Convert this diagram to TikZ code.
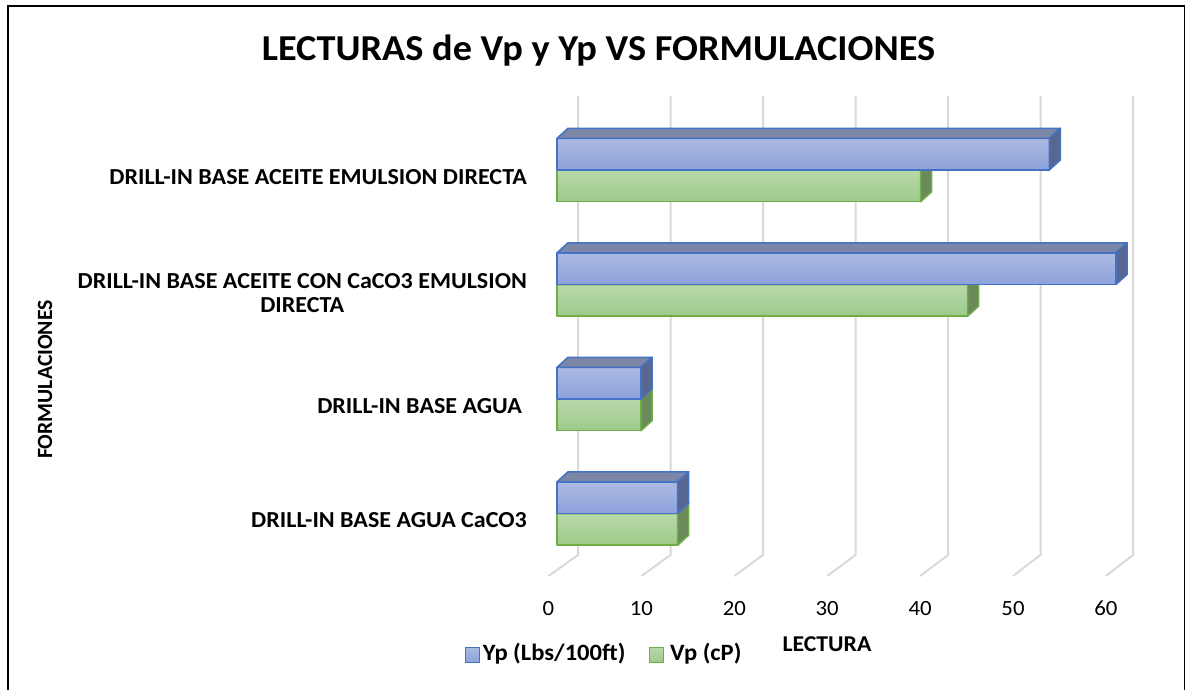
\documentclass[tikz,border=0pt]{standalone}
\usepackage{fontspec}
\setmainfont{Carlito}
\definecolor{chartcolor0001}{RGB}{172,186,226}
\definecolor{chartcolor0002}{RGB}{140,162,219}
\definecolor{chartcolor0003}{RGB}{124,134,166}
\definecolor{chartcolor0004}{RGB}{88,102,146}
\definecolor{chartcolor0005}{RGB}{68,114,196}
\definecolor{chartcolor0006}{RGB}{184,217,171}
\definecolor{chartcolor0007}{RGB}{157,202,137}
\definecolor{chartcolor0008}{RGB}{106,138,90}
\definecolor{chartcolor0009}{RGB}{124,150,108}
\definecolor{chartcolor0010}{RGB}{112,173,71}
\definecolor{chartcolor0011}{RGB}{217,217,217}

\begin{document}
\begin{tikzpicture}[yscale=-1
,cstyle0/.style={color=black,line width=1.5pt}
,cstyle1/.style={color=chartcolor0011,line width=2pt}
,cstyle2/.style={draw=chartcolor0005,top color=chartcolor0001,bottom color=chartcolor0002,line width=1.5pt,line join=round}
,cstyle3/.style={draw=chartcolor0005,fill=chartcolor0003,line width=1.5pt,line join=round}
,cstyle4/.style={draw=chartcolor0005,fill=chartcolor0004,line width=1.5pt,line join=round}
,cstyle5/.style={draw=chartcolor0010,top color=chartcolor0006,bottom color=chartcolor0007,line width=1.5pt,line join=round}
,cstyle6/.style={draw=chartcolor0010,fill=chartcolor0009,line width=1.5pt,line join=round}
,cstyle7/.style={draw=chartcolor0010,fill=chartcolor0008,line width=1.5pt,line join=round}
,ctext0/.style={font=\fontsize{36.5}{42}\selectfont\bfseries,inner sep=0pt,xscale=1.05}
,ctext1/.style={font=\fontsize{22.9}{24}\selectfont\bfseries,inner sep=0pt,xscale=1.05}
,ctext2/.style={font=\fontsize{21.7}{25}\selectfont,inner sep=0pt,xscale=1.05}
,ctext3/.style={font=\fontsize{21.7}{25}\selectfont\bfseries,inner sep=0pt}
,ctext4/.style={font=\fontsize{23.4}{27}\selectfont\bfseries,inner sep=0pt,xscale=1.05}
]
\useasboundingbox (0pt,0pt) rectangle (1186pt,690pt);
\draw[cstyle0] (8pt,6pt) rectangle (1184.5pt,692pt);
\node[ctext0,anchor=base] (title) at (598.5pt,61pt) {LECTURAS de Vp y Yp VS FORMULACIONES};
\draw[cstyle1] (578pt,96pt) -- (578pt,555pt) -- (548.5pt,576pt);
\draw[cstyle1] (670.5pt,96pt) -- (670.5pt,555pt) -- (641.4pt,576pt);
\draw[cstyle1] (763pt,96pt) -- (763pt,555pt) -- (734.3pt,576pt);
\draw[cstyle1] (855.5pt,96pt) -- (855.5pt,555pt) -- (827.2pt,576pt);
\draw[cstyle1] (948pt,96pt) -- (948pt,555pt) -- (920.1pt,576pt);
\draw[cstyle1] (1040.5pt,96pt) -- (1040.5pt,555pt) -- (1013pt,576pt);
\draw[cstyle1] (1133pt,96pt) -- (1133pt,555pt) -- (1105.9pt,576pt);
\draw[cstyle5] (557pt,170pt) rectangle (920.7pt,201.7pt);
\draw[cstyle6] (557pt,170pt) -- (568pt,160pt) -- (931.7pt,160pt) -- (920.7pt,170pt) -- cycle;
\draw[cstyle7] (920.7pt,170pt) -- (931.7pt,160pt) -- (931.7pt,191.7pt) -- (920.7pt,201.7pt) -- cycle;
\draw[cstyle2] (557pt,138.3pt) rectangle (1049.3pt,170pt);
\draw[cstyle3] (557pt,138.3pt) -- (568pt,128.3pt) -- (1060.3pt,128.3pt) -- (1049.3pt,138.3pt) -- cycle;
\draw[cstyle4] (1049.3pt,138.3pt) -- (1060.3pt,128.3pt) -- (1060.3pt,160pt) -- (1049.3pt,170pt) -- cycle;
\draw[cstyle5] (557pt,284.5pt) rectangle (967.6pt,316.2pt);
\draw[cstyle6] (557pt,284.5pt) -- (568pt,274.5pt) -- (978.6pt,274.5pt) -- (967.6pt,284.5pt) -- cycle;
\draw[cstyle7] (967.6pt,284.5pt) -- (978.6pt,274.5pt) -- (978.6pt,306.2pt) -- (967.6pt,316.2pt) -- cycle;
\draw[cstyle2] (557pt,252.8pt) rectangle (1116pt,284.5pt);
\draw[cstyle3] (557pt,252.8pt) -- (568pt,242.8pt) -- (1127pt,242.8pt) -- (1116pt,252.8pt) -- cycle;
\draw[cstyle4] (1116pt,252.8pt) -- (1127pt,242.8pt) -- (1127pt,274.5pt) -- (1116pt,284.5pt) -- cycle;
\draw[cstyle5] (557pt,399pt) rectangle (641pt,430.7pt);
\draw[cstyle6] (557pt,399pt) -- (568pt,389pt) -- (652pt,389pt) -- (641pt,399pt) -- cycle;
\draw[cstyle7] (641pt,399pt) -- (652pt,389pt) -- (652pt,420.7pt) -- (641pt,430.7pt) -- cycle;
\draw[cstyle2] (557pt,367.3pt) rectangle (641pt,399pt);
\draw[cstyle3] (557pt,367.3pt) -- (568pt,357.3pt) -- (652pt,357.3pt) -- (641pt,367.3pt) -- cycle;
\draw[cstyle4] (641pt,367.3pt) -- (652pt,357.3pt) -- (652pt,389pt) -- (641pt,399pt) -- cycle;
\draw[cstyle5] (557pt,513.5pt) rectangle (677.7pt,545.2pt);
\draw[cstyle6] (557pt,513.5pt) -- (568pt,503.5pt) -- (688.7pt,503.5pt) -- (677.7pt,513.5pt) -- cycle;
\draw[cstyle7] (677.7pt,513.5pt) -- (688.7pt,503.5pt) -- (688.7pt,535.2pt) -- (677.7pt,545.2pt) -- cycle;
\draw[cstyle2] (557pt,481.8pt) rectangle (677.7pt,513.5pt);
\draw[cstyle3] (557pt,481.8pt) -- (568pt,471.8pt) -- (688.7pt,471.8pt) -- (677.7pt,481.8pt) -- cycle;
\draw[cstyle4] (677.7pt,481.8pt) -- (688.7pt,471.8pt) -- (688.7pt,503.5pt) -- (677.7pt,513.5pt) -- cycle;
\node[ctext1,anchor=base east] (cat1) at (527pt,184.3pt) {DRILL-IN BASE ACEITE EMULSION DIRECTA};
\node[ctext1,anchor=east,align=center] (cat2) at (527pt,293pt) {DRILL-IN BASE ACEITE CON CaCO3 EMULSION\\DIRECTA};
\node[ctext1,anchor=base east] (cat3) at (522pt,413.3pt) {DRILL-IN BASE AGUA};
\node[ctext1,anchor=base east] (cat4) at (527pt,527.8pt) {DRILL-IN BASE AGUA CaCO3};
\node[ctext3,anchor=base,rotate=90] (ytitle) at (52pt,379.5pt) {FORMULACIONES};
\node[ctext2,anchor=base] (tick0) at (548.5pt,615pt) {0};
\node[ctext2,anchor=base] (tick10) at (641.4pt,615pt) {10};
\node[ctext2,anchor=base] (tick20) at (734.3pt,615pt) {20};
\node[ctext2,anchor=base] (tick30) at (827.2pt,615pt) {30};
\node[ctext2,anchor=base] (tick40) at (920.1pt,615pt) {40};
\node[ctext2,anchor=base] (tick50) at (1013pt,615pt) {50};
\node[ctext2,anchor=base] (tick60) at (1105.9pt,615pt) {60};
\node[ctext3,anchor=base,font=\fontsize{22.6}{26}\selectfont\bfseries,xscale=1.05] (xtitle) at (827pt,651pt) {LECTURA};
\node[cstyle2,minimum width=14pt,minimum height=15pt,inner sep=0pt,line width=1pt] (legyp) at (472pt,654.5pt) {};
\node[ctext4,anchor=base west] (legyptext) at (482.7pt,660.7pt) {Yp (Lbs/100ft)};
\node[cstyle5,minimum width=14pt,minimum height=15pt,inner sep=0pt,line width=1pt] (legvp) at (656pt,654.5pt) {};
\node[ctext4,anchor=base west] (legvptext) at (670pt,660.7pt) {Vp (cP)};
\end{tikzpicture}
\end{document}
